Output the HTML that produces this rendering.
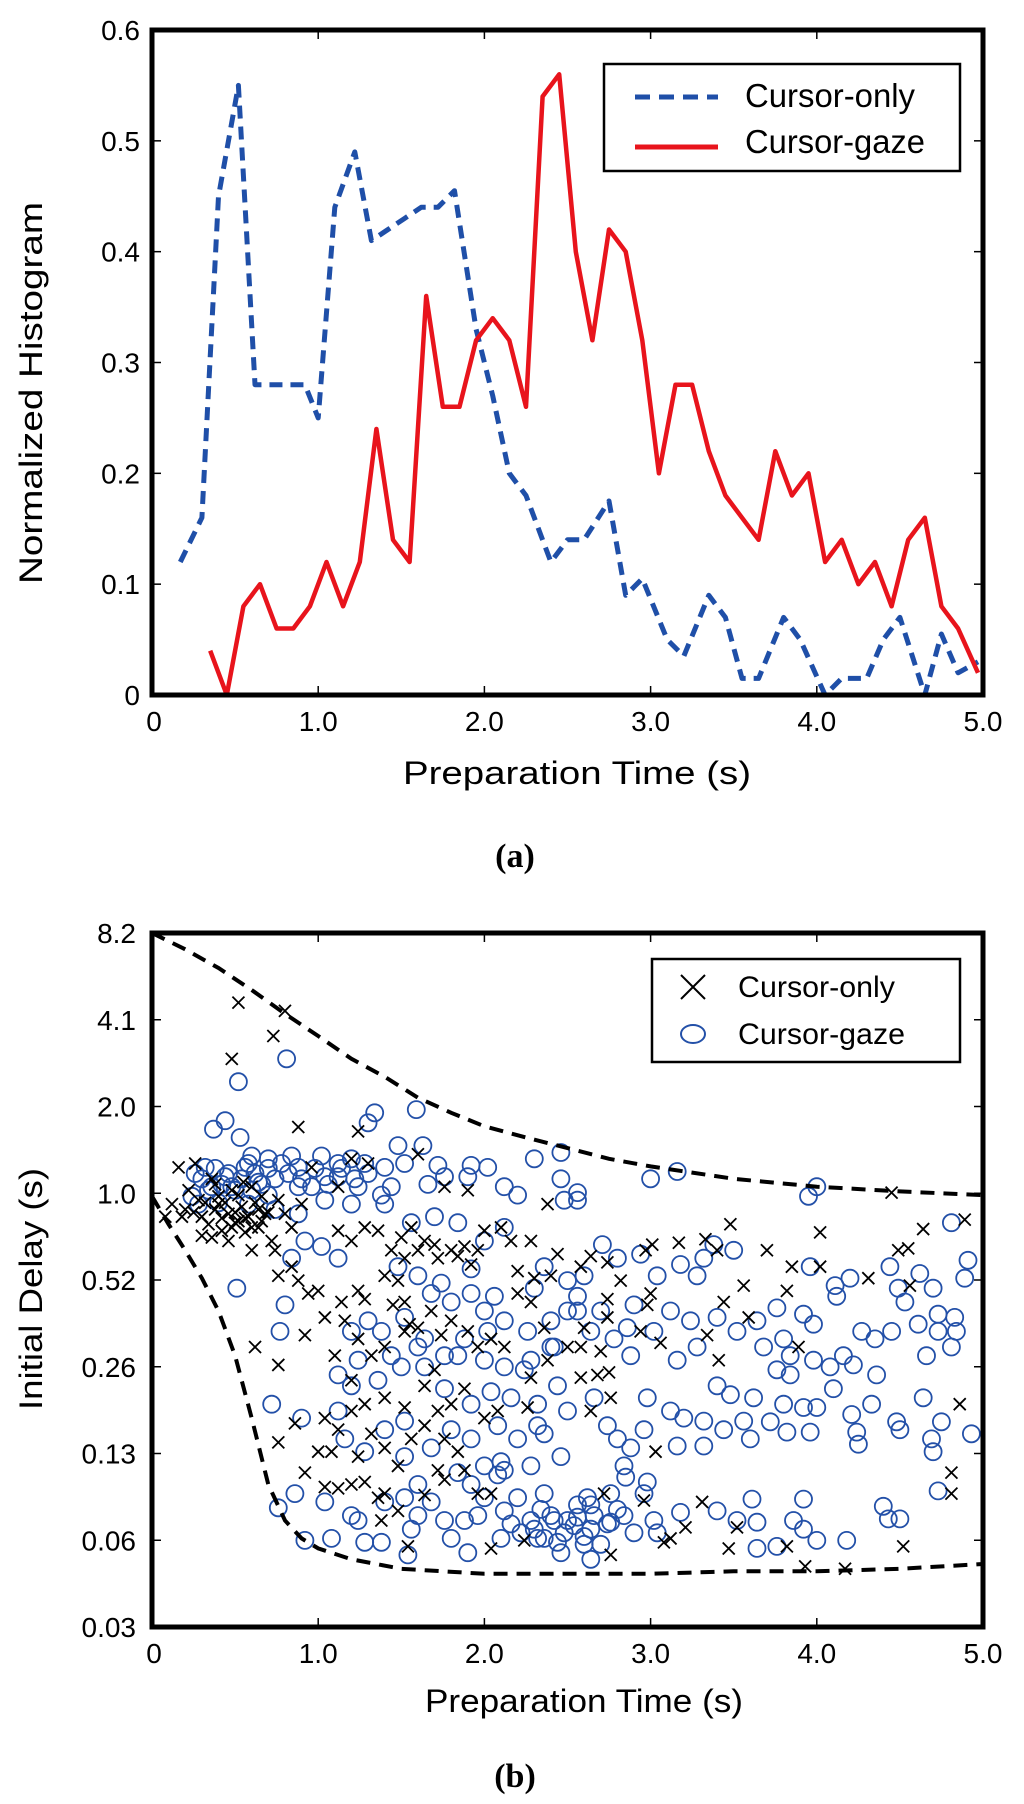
<!DOCTYPE html>
<html><head><meta charset="utf-8">
<style>
html,body{margin:0;padding:0;background:#fff;}
svg{display:block;font-family:"Liberation Sans",Arial,sans-serif;}
</style></head>
<body>
<svg id="fig" width="1024" height="1804" viewBox="0 0 1024 1804" xmlns="http://www.w3.org/2000/svg">
<g id="chartA"></g>
<g id="chartB"></g>
<text x="515" y="867" text-anchor="middle" font-family="Liberation Serif,serif" font-weight="bold" font-size="34">(a)</text>
<text x="515" y="1787" text-anchor="middle" font-family="Liberation Serif,serif" font-weight="bold" font-size="34">(b)</text>
</svg>
<script>
// ---------- Chart A data ----------
const onlyX = [0.17,0.3,0.4,0.52,0.62,0.72,0.82,0.92,1.0,1.1,1.22,1.32,1.42,1.52,1.62,1.72,1.82,1.95,2.05,2.15,2.25,2.4,2.5,2.6,2.75,2.85,2.95,3.1,3.2,3.35,3.45,3.55,3.65,3.8,3.9,4.05,4.15,4.3,4.4,4.5,4.65,4.75,4.85,4.97];
const onlyY = [0.12,0.16,0.45,0.55,0.28,0.28,0.28,0.28,0.25,0.44,0.49,0.41,0.42,0.43,0.44,0.44,0.455,0.33,0.27,0.2,0.18,0.12,0.14,0.14,0.175,0.09,0.105,0.05,0.035,0.09,0.07,0.015,0.015,0.07,0.05,0.0,0.015,0.015,0.05,0.07,0.0,0.055,0.02,0.03];
const gazeX = [0.35,0.45,0.55,0.65,0.75,0.85,0.95,1.05,1.15,1.25,1.35,1.45,1.55,1.65,1.75,1.85,1.95,2.05,2.15,2.25,2.35,2.45,2.55,2.65,2.75,2.85,2.95,3.05,3.15,3.25,3.35,3.45,3.55,3.65,3.75,3.85,3.95,4.05,4.15,4.25,4.35,4.45,4.55,4.65,4.75,4.85,4.97];
const gazeY = [0.04,0.0,0.08,0.1,0.06,0.06,0.08,0.12,0.08,0.12,0.24,0.14,0.12,0.36,0.26,0.26,0.32,0.34,0.32,0.26,0.54,0.56,0.40,0.32,0.42,0.40,0.32,0.20,0.28,0.28,0.22,0.18,0.16,0.14,0.22,0.18,0.20,0.12,0.14,0.10,0.12,0.08,0.14,0.16,0.08,0.06,0.02];
const aYTicks = ["0","0.1","0.2","0.3","0.4","0.5","0.6"];
const aXTicks = ["0","1.0","2.0","3.0","4.0","5.0"];

// ---------- Chart B data ----------
const crossX = [0.52,0.80,0.73,0.48,0.88,1.24,0.16,0.26,0.36,0.12,0.20,0.28,0.40,0.46,0.52,0.56,0.60,0.64,0.68,0.72,0.76,0.30,0.42,0.50,0.60,0.74,0.80,0.84,0.90,0.96,1.12,1.20,1.30,1.60,1.76,1.90,2.38,0.76,0.84,0.88,0.94,1.00,1.04,1.14,1.16,1.24,1.28,1.40,1.48,1.52,1.60,1.64,1.72,1.80,1.88,1.96,2.00,2.10,2.16,2.28,1.12,1.20,1.28,1.36,1.44,1.52,1.56,1.24,1.32,1.40,1.52,1.60,1.68,1.74,1.80,1.90,1.96,2.04,2.12,2.20,2.28,2.36,2.40,2.44,0.92,0.62,0.76,1.20,1.28,1.40,1.52,1.64,1.72,1.80,1.88,2.00,2.08,2.26,1.04,1.08,1.12,1.20,1.24,1.32,1.40,1.48,1.56,1.64,1.76,1.84,0.76,0.86,0.92,1.00,1.04,1.12,1.20,1.28,1.36,1.40,1.48,1.64,1.72,1.76,1.88,1.96,2.04,1.38,1.54,2.04,2.24,2.38,2.28,
4.45,4.89,4.64,4.49,4.55,4.56,4.31,4.02,4.02,3.85,3.82,3.70,3.48,3.40,3.33,3.17,3.01,2.97,3.56,3.44,3.59,3.34,3.41,3.89,2.94,3.00,2.98,3.06,2.74,2.64,2.58,2.82,2.74,2.74,2.70,2.58,2.68,2.75,2.58,2.76,2.64,3.03,2.72,2.96,2.76,3.08,3.12,3.21,3.31,3.52,3.47,3.82,3.93,4.17,4.52,4.86,4.81,4.81,
0.30,0.34,0.38,0.42,0.44,0.48,0.50,0.54,0.56,0.58,0.62,0.66,0.70,0.32,0.36,0.40,0.46,0.52,0.60,0.64,0.25,0.22,0.18,0.38,0.48,0.55,0.66,0.08,1.50,1.70,1.84,1.92,2.20,2.30,1.55,1.45,2.50,2.60,1.70,1.10];
const crossY = [4.7,4.4,3.6,3.0,1.74,1.68,1.26,1.3,1.15,0.94,0.9,0.97,0.94,0.87,1.01,0.84,1.08,0.78,0.87,0.70,0.97,0.73,0.76,0.81,0.65,0.65,0.87,0.78,0.94,1.26,1.08,1.35,1.3,1.4,1.08,1.05,0.94,0.53,0.57,0.51,0.46,0.47,0.38,0.43,0.37,0.47,0.44,0.53,0.51,0.43,0.65,0.70,0.61,0.65,0.67,0.65,0.76,0.78,0.70,0.70,0.76,0.70,0.78,0.76,0.65,0.61,0.78,0.32,0.28,0.30,0.34,0.35,0.40,0.33,0.37,0.34,0.30,0.32,0.30,0.46,0.43,0.35,0.53,0.63,0.33,0.30,0.26,0.23,0.19,0.20,0.185,0.22,0.18,0.19,0.215,0.17,0.18,0.185,0.17,0.13,0.155,0.18,0.125,0.15,0.134,0.116,0.144,0.16,0.144,0.13,0.14,0.163,0.11,0.13,0.098,0.097,0.10,0.102,0.09,0.093,0.081,0.092,0.112,0.104,0.112,0.093,0.093,0.075,0.061,0.06,0.064,0.27,0.235,
1.03,0.83,0.77,0.65,0.66,0.49,0.52,0.75,0.57,0.57,0.47,0.65,0.80,0.65,0.71,0.69,0.68,0.65,0.49,0.43,0.38,0.33,0.27,0.30,0.34,0.46,0.42,0.31,0.59,0.62,0.57,0.51,0.44,0.38,0.29,0.30,0.24,0.245,0.235,0.20,0.18,0.13,0.093,0.088,0.057,0.063,0.065,0.071,0.087,0.071,0.06,0.061,0.052,0.051,0.061,0.19,0.11,0.093,
0.85,0.80,0.90,0.84,0.95,0.78,0.88,0.92,0.75,0.85,0.95,0.82,0.88,0.95,0.72,1.0,0.70,0.82,0.78,0.90,0.88,1.05,0.85,1.1,1.05,1.12,1.0,0.85,0.72,0.68,0.62,0.58,0.55,0.52,0.36,0.42,0.30,0.35,0.25,0.28];
const circX = [0.81,0.52,0.37,0.44,0.53,1.34,1.30,1.59,1.63,1.48,0.60,0.70,0.84,0.88,1.02,1.12,1.20,1.28,1.40,1.52,1.72,1.92,2.02,2.30,2.46,2.20,2.12,1.66,1.76,1.90,2.46,2.48,0.32,0.36,0.44,0.56,0.64,0.70,0.28,0.48,0.58,0.74,0.88,0.96,1.04,1.12,1.24,1.38,1.44,1.20,1.04,0.88,0.92,1.02,1.12,0.84,0.51,0.80,0.77,1.40,1.56,1.70,1.84,2.00,2.12,2.36,2.50,1.48,1.60,1.68,1.80,1.92,2.00,2.12,2.26,2.40,2.50,1.52,1.64,1.76,1.88,2.00,2.12,2.28,2.40,1.20,1.30,1.38,1.44,1.24,1.12,1.20,1.36,1.50,1.64,1.76,1.92,2.04,2.16,2.32,2.44,2.50,1.80,1.92,2.08,2.20,2.36,2.46,1.40,1.52,1.28,1.16,1.12,1.52,1.68,2.00,2.12,2.28,0.72,0.90,0.86,0.76,0.92,1.08,1.04,1.20,1.28,1.38,1.24,1.40,1.52,1.56,1.54,1.60,1.68,1.76,1.80,1.90,1.88,1.96,2.00,2.08,2.12,2.16,2.20,2.28,2.32,2.40,2.44,2.50,2.10,2.36,1.92,
3.0,3.16,4.0,3.95,2.56,2.56,4.81,2.71,2.94,3.32,3.38,3.50,3.18,3.28,3.04,2.80,2.60,3.96,4.11,4.12,4.20,4.44,4.49,4.62,4.70,4.91,4.89,4.53,4.61,4.73,4.83,4.84,4.73,4.81,4.66,4.45,4.35,4.27,4.16,4.08,4.10,4.22,4.36,3.92,3.98,3.76,3.64,3.68,3.80,3.84,3.76,3.84,3.98,3.52,3.40,3.24,3.12,3.02,2.90,2.86,2.78,2.64,2.56,2.88,3.16,3.28,3.40,3.48,3.62,3.80,3.92,4.00,4.21,4.33,4.64,4.48,4.50,4.75,4.69,4.70,4.93,4.24,4.25,3.96,3.82,3.72,3.56,3.60,3.44,3.32,3.20,3.12,2.98,2.96,3.16,3.32,2.88,2.80,2.84,2.85,2.98,2.96,2.76,2.64,2.56,2.64,2.74,2.84,2.60,2.64,3.02,3.04,3.18,3.40,3.61,3.64,3.52,3.64,3.76,3.86,3.92,3.92,4.00,4.18,4.40,4.43,4.50,4.73,
0.30,0.34,0.38,0.42,0.46,0.50,0.54,0.58,0.62,0.66,0.70,0.74,0.78,0.82,0.90,0.98,1.06,1.14,1.22,1.30,0.24,0.26,0.40,0.60,2.30,2.36,2.42,2.48,2.54,2.60,2.66,2.70,2.76,2.56,2.62,2.46,2.34,2.22,2.80,2.90,1.60,1.84,2.02,2.24,2.42,2.06,2.30,1.92,1.74,2.56,2.70,2.66,2.74,2.32,2.10,1.84,1.60];
const circY = [3.0,2.5,1.71,1.83,1.6,1.95,1.8,2.0,1.5,1.5,1.38,1.35,1.38,1.26,1.38,1.3,1.35,1.3,1.26,1.3,1.28,1.28,1.26,1.35,1.42,1.01,1.08,1.1,1.17,1.17,1.15,0.97,1.26,1.08,1.17,1.26,1.12,1.01,0.94,1.08,0.94,0.90,1.08,1.08,1.17,1.17,1.08,1.01,1.08,0.94,0.97,0.87,0.70,0.67,0.61,0.61,0.48,0.42,0.34,0.94,0.81,0.85,0.81,0.70,0.78,0.57,0.51,0.57,0.53,0.46,0.43,0.46,0.40,0.37,0.34,0.37,0.40,0.38,0.32,0.28,0.32,0.27,0.256,0.27,0.30,0.34,0.37,0.34,0.28,0.27,0.24,0.22,0.23,0.256,0.256,0.215,0.19,0.21,0.20,0.19,0.22,0.18,0.155,0.144,0.16,0.144,0.15,0.125,0.155,0.166,0.13,0.144,0.18,0.125,0.134,0.116,0.112,0.116,0.19,0.17,0.093,0.083,0.064,0.065,0.087,0.078,0.063,0.063,0.075,0.087,0.09,0.07,0.057,0.078,0.087,0.075,0.065,0.058,0.075,0.078,0.09,0.108,0.081,0.073,0.09,0.075,0.065,0.078,0.063,0.075,0.065,0.093,0.10,
1.15,1.22,1.08,1.0,0.97,1.03,0.81,0.68,0.63,0.61,0.68,0.65,0.58,0.53,0.53,0.61,0.53,0.57,0.49,0.45,0.52,0.57,0.48,0.54,0.48,0.6,0.52,0.43,0.36,0.39,0.38,0.34,0.34,0.30,0.28,0.34,0.32,0.34,0.28,0.256,0.215,0.26,0.24,0.39,0.36,0.41,0.37,0.30,0.32,0.28,0.25,0.24,0.27,0.34,0.38,0.37,0.40,0.34,0.42,0.35,0.32,0.34,0.40,0.28,0.27,0.30,0.22,0.205,0.20,0.19,0.185,0.185,0.175,0.19,0.20,0.165,0.155,0.165,0.144,0.13,0.15,0.152,0.138,0.152,0.152,0.165,0.166,0.144,0.155,0.166,0.17,0.18,0.20,0.155,0.136,0.136,0.134,0.144,0.116,0.106,0.102,0.093,0.093,0.085,0.077,0.07,0.073,0.078,0.062,0.055,0.075,0.068,0.08,0.081,0.089,0.074,0.075,0.06,0.061,0.075,0.089,0.07,0.064,0.064,0.084,0.076,0.076,0.095,
1.15,1.05,1.25,1.1,1.2,1.05,1.15,1.3,1.2,1.1,1.25,1.15,1.3,1.2,1.15,1.25,1.1,1.25,1.15,1.2,1.0,1.2,0.95,1.05,0.07,0.065,0.075,0.068,0.072,0.066,0.078,0.062,0.074,0.085,0.09,0.058,0.082,0.068,0.082,0.068,0.3,0.28,0.34,0.25,0.3,0.45,0.48,0.56,0.5,0.45,0.4,0.2,0.16,0.16,0.12,0.11,0.1];
const upperX = [0,0.2,0.4,0.6,0.8,1.0,1.2,1.4,1.6,1.8,2.0,2.25,2.5,2.75,3.0,3.5,4.0,4.5,5.0];
const upperY = [8.2,7.2,6.2,5.2,4.3,3.6,3.0,2.6,2.2,1.95,1.75,1.6,1.47,1.35,1.27,1.15,1.08,1.04,1.01];
const lowerX = [0,0.1,0.2,0.3,0.4,0.5,0.6,0.7,0.8,0.9,1.0,1.2,1.5,2.0,2.5,3.0,3.5,4.0,4.5,5.0];
const lowerY = [1.0,0.8,0.65,0.52,0.4,0.28,0.17,0.1,0.075,0.065,0.06,0.055,0.051,0.049,0.049,0.049,0.05,0.05,0.051,0.053];
const bYTicks = ["8.2","4.1","2.0","1.0","0.52","0.26","0.13","0.06","0.03"];
const bXTicks = ["0","1.0","2.0","3.0","4.0","5.0"];

const NS = "http://www.w3.org/2000/svg";
function mk(parent, tag, attrs, txt){
  const e = document.createElementNS(NS, tag);
  for (const k in attrs) e.setAttribute(k, attrs[k]);
  if (txt !== undefined) e.textContent = txt;
  parent.appendChild(e);
  return e;
}
const L = 152, R = 983;
const xs = v => L + v/5*(R-L);

// ================= Chart A =================
(function(){
  const g = document.getElementById('chartA');
  const T = 30, B = 695;
  const ys = v => B - v/0.6*(B-T);
  for (let i=0;i<aYTicks.length;i++){
    const y = ys(i*0.1);
    const t = mk(g,'text',{x:140,y:y+10,'text-anchor':'end','font-size':28},aYTicks[i]);
    
    
    const k1 = mk(g,'line',{x1:L,x2:L+9,y1:y,y2:y,stroke:'#000','stroke-width':1.5});
    
    
    const k2 = mk(g,'line',{x1:R-9,x2:R,y1:y,y2:y,stroke:'#000','stroke-width':1.5});
    
    
  }
  for (let i=0;i<aXTicks.length;i++){
    const x = xs(i);
    const t = mk(g,'text',{x:i===0?x+2:x,y:731,'text-anchor':'middle','font-size':28},aXTicks[i]);
    
    
    const k1 = mk(g,'line',{x1:x,x2:x,y1:B,y2:B-9,stroke:'#000','stroke-width':1.5});
    
    
    const k2 = mk(g,'line',{x1:x,x2:x,y1:T,y2:T+9,stroke:'#000','stroke-width':1.5});
    
    
  }
  const pb = onlyX.map((x,i)=>xs(x).toFixed(1)+','+ys(onlyY[i]).toFixed(1)).join(' ');
  const lb = mk(g,'polyline',{points:pb,fill:'none',stroke:'#1f4fa8','stroke-width':5,'stroke-dasharray':'13 8','stroke-linejoin':'round'});
  
  
  const pr = gazeX.map((x,i)=>xs(x).toFixed(1)+','+ys(gazeY[i]).toFixed(1)).join(' ');
  const lr = mk(g,'polyline',{points:pr,fill:'none',stroke:'#e8141c','stroke-width':4.5,'stroke-linejoin':'round'});
  
  
  const fr = mk(g,'rect',{x:L,y:T,width:R-L,height:B-T,fill:'none',stroke:'#000','stroke-width':5});
  
  
  const lg = mk(g,'g',{});
  
  
  mk(lg,'rect',{x:604,y:64,width:356,height:107,fill:'#fff',stroke:'#000','stroke-width':2.5});
  const s1 = mk(lg,'line',{x1:635,x2:718,y1:97,y2:97,stroke:'#1f4fa8','stroke-width':5,'stroke-dasharray':'15 9'});
  
  
  const t1 = mk(lg,'text',{x:745,y:107,'font-size':33,textLength:170,lengthAdjust:'spacingAndGlyphs'},'Cursor-only');
  
  
  const s2 = mk(lg,'line',{x1:635,x2:718,y1:147,y2:147,stroke:'#e8141c','stroke-width':5});
  
  
  const t2 = mk(lg,'text',{x:745,y:153,'font-size':33,textLength:180,lengthAdjust:'spacingAndGlyphs'},'Cursor-gaze');
  
  
  const xl = mk(g,'text',{x:577,y:784,'text-anchor':'middle','font-size':32,textLength:348,lengthAdjust:'spacingAndGlyphs'},'Preparation Time (s)');
  
  
  const yl = mk(g,'text',{x:0,y:0,'text-anchor':'middle','font-size':32,textLength:382,lengthAdjust:'spacingAndGlyphs',transform:'translate(42,393) rotate(-90)'},'Normalized Histogram');
  
  
})();

// ================= Chart B =================
(function(){
  const g = document.getElementById('chartB');
  const T = 933, B = 1627;
  const step = (B-T)/8;
  const ys = v => T + Math.log2(8.2/v)*step;
  for (let i=0;i<bYTicks.length;i++){
    const y = T + i*step;
    const t = mk(g,'text',{x:136,y:y+10,'text-anchor':'end','font-size':28},bYTicks[i]);
    
    
    const k1 = mk(g,'line',{x1:L,x2:L+9,y1:y,y2:y,stroke:'#000','stroke-width':1.5});
    
    
    const k2 = mk(g,'line',{x1:R-9,x2:R,y1:y,y2:y,stroke:'#000','stroke-width':1.5});
    
    
  }
  for (let i=0;i<bXTicks.length;i++){
    const x = xs(i);
    const t = mk(g,'text',{x:i===0?x+2:x,y:1663,'text-anchor':'middle','font-size':28},bXTicks[i]);
    
    
    const k1 = mk(g,'line',{x1:x,x2:x,y1:B,y2:B-9,stroke:'#000','stroke-width':1.5});
    
    
    const k2 = mk(g,'line',{x1:x,x2:x,y1:T,y2:T+9,stroke:'#000','stroke-width':1.5});
    
    
  }
  for (let i=0;i<circX.length;i++){
    const c = mk(g,'ellipse',{cx:xs(circX[i]).toFixed(1),cy:ys(circY[i]).toFixed(1),rx:8.5,ry:8.5,fill:'none',stroke:'#2350a8','stroke-width':1.8});
    
    
  }
  for (let i=0;i<crossX.length;i++){
    const x = xs(crossX[i]), y = ys(crossY[i]), d = 6;
    const p = mk(g,'path',{d:`M${x-d},${y-d}L${x+d},${y+d}M${x-d},${y+d}L${x+d},${y-d}`,stroke:'#000','stroke-width':1.8,fill:'none'});
    
    
  }
  const up = upperX.map((x,i)=>xs(x).toFixed(1)+','+ys(upperY[i]).toFixed(1)).join(' ');
  const u = mk(g,'polyline',{points:up,fill:'none',stroke:'#000','stroke-width':4,'stroke-dasharray':'14 9'});
  
  
  const lp = lowerX.map((x,i)=>xs(x).toFixed(1)+','+ys(lowerY[i]).toFixed(1)).join(' ');
  const lo = mk(g,'polyline',{points:lp,fill:'none',stroke:'#000','stroke-width':4,'stroke-dasharray':'14 9'});
  
  
  const fr = mk(g,'rect',{x:L,y:T,width:R-L,height:B-T,fill:'none',stroke:'#000','stroke-width':5});
  
  
  const lg = mk(g,'g',{});
  
  
  mk(lg,'rect',{x:652,y:959,width:308,height:103,fill:'#fff',stroke:'#000','stroke-width':2.5});
  const cx = 693;
  const s1 = mk(lg,'path',{d:`M${cx-12},975L${cx+12},999M${cx-12},999L${cx+12},975`,stroke:'#000','stroke-width':2});
  
  
  const t1 = mk(lg,'text',{x:738,y:997,'font-size':30,textLength:157,lengthAdjust:'spacingAndGlyphs'},'Cursor-only');
  
  
  const s2 = mk(lg,'ellipse',{cx:cx,cy:1034,rx:12,ry:9,fill:'none',stroke:'#2350a8','stroke-width':2});
  
  
  const t2 = mk(lg,'text',{x:738,y:1044,'font-size':30,textLength:167,lengthAdjust:'spacingAndGlyphs'},'Cursor-gaze');
  
  
  const xl = mk(g,'text',{x:584,y:1712,'text-anchor':'middle','font-size':32,textLength:318,lengthAdjust:'spacingAndGlyphs'},'Preparation Time (s)');
  
  
  const yl = mk(g,'text',{x:0,y:0,'text-anchor':'middle','font-size':32,textLength:242,lengthAdjust:'spacingAndGlyphs',transform:'translate(42,1289) rotate(-90)'},'Initial Delay (s)');
  
  
})();
</script>
</body></html>
